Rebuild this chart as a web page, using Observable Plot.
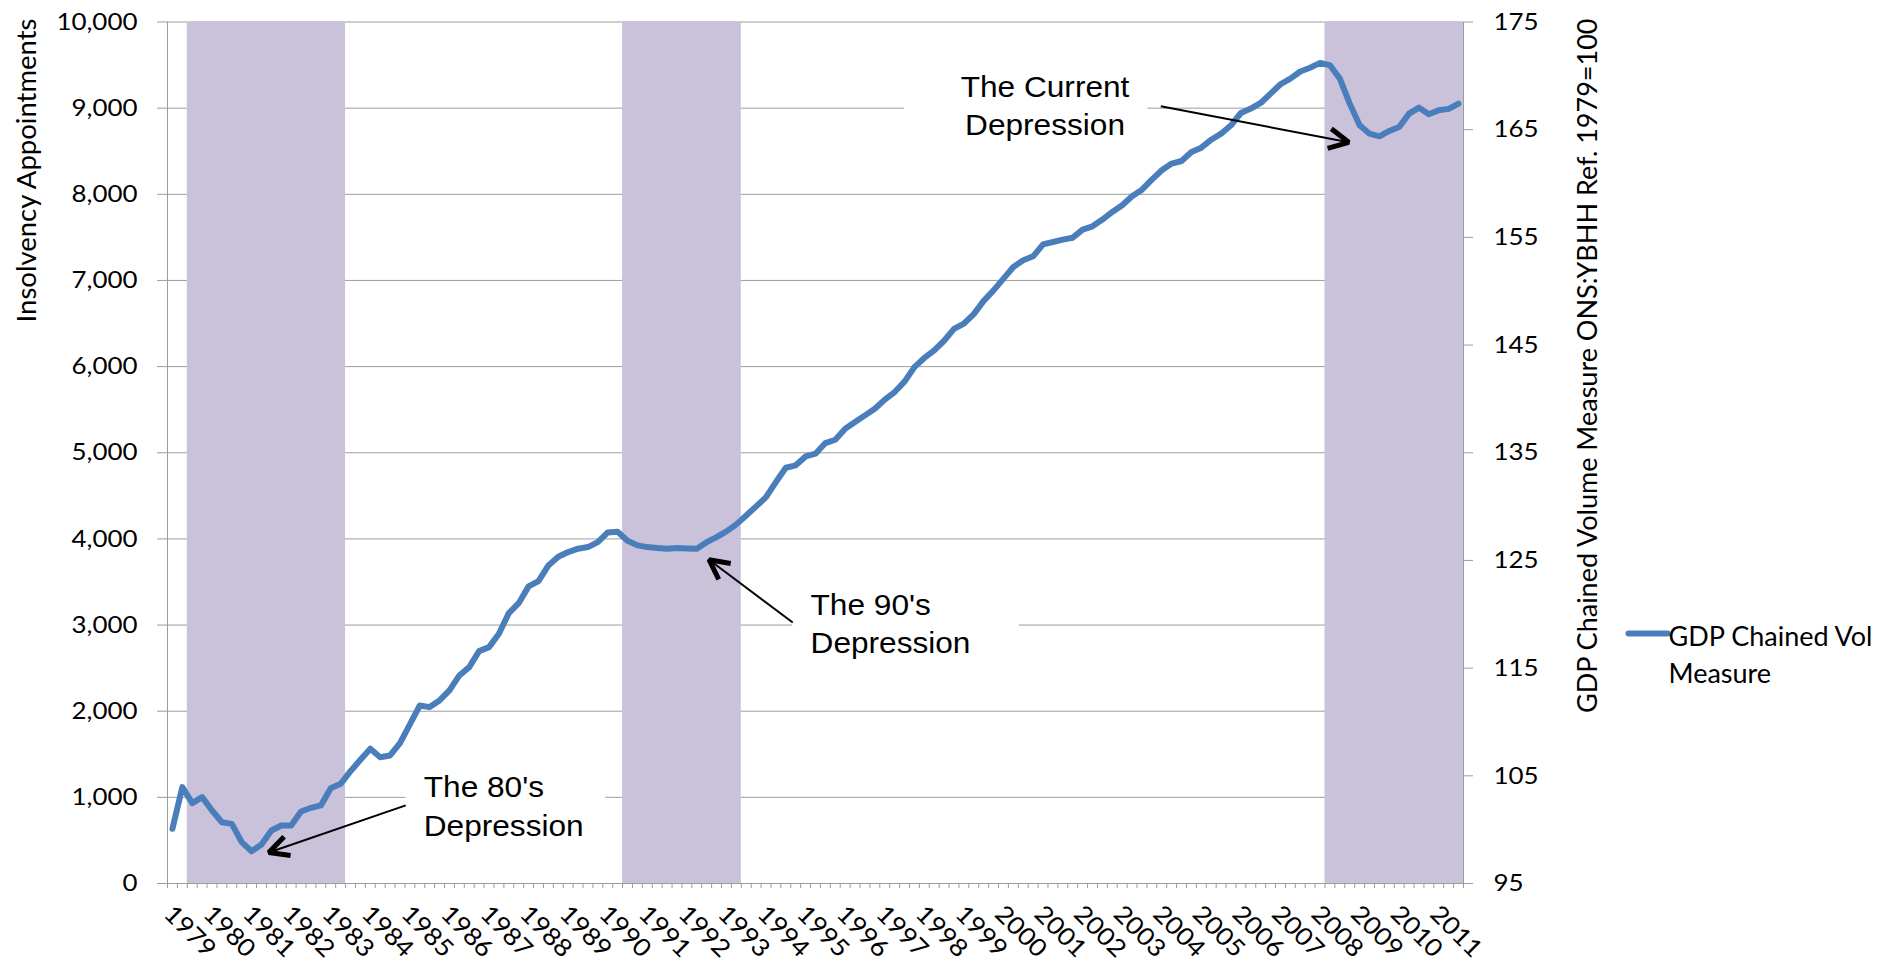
<!DOCTYPE html>
<html>
<head>
<meta charset="utf-8">
<script src="https://cdn.jsdelivr.net/npm/d3@7"></script>
<script src="https://cdn.jsdelivr.net/npm/@observablehq/plot@0.6"></script>
<style>
  html, body { margin: 0; padding: 0; background: #fff; }
  svg { display: block; }
</style>
</head>
<body>
<script>
// ---------------- DATA ----------------
const startYear = 1979;
// GDP chained volume measure (ONS:YBHH, 1979=100), quarterly 1979 Q1 .. 2011 Q3
const gdp = [
  100.08, 103.95, 102.46, 103.02, 101.78, 100.69, 100.54, 98.84,
  98.00, 98.62, 99.92, 100.39, 100.39, 101.69, 102.03, 102.25,
  103.85, 104.26, 105.43, 106.49, 107.51, 106.73, 106.89, 108.03,
  109.77, 111.53, 111.38, 112.00, 112.93, 114.32, 115.09, 116.58,
  116.95, 118.19, 120.11, 121.03, 122.59, 123.08, 124.54, 125.34,
  125.78, 126.09, 126.24, 126.70, 127.60, 127.66, 126.83, 126.40,
  126.24, 126.15, 126.09, 126.15, 126.12, 126.09, 126.70, 127.17,
  127.70, 128.35, 129.18, 130.02, 130.88, 132.28, 133.61, 133.83,
  134.66, 134.91, 135.90, 136.21, 137.23, 137.85, 138.47, 139.09,
  139.93, 140.64, 141.60, 142.95, 143.80, 144.50, 145.40, 146.50,
  147.00, 147.87, 149.10, 150.08, 151.17, 152.25, 152.87, 153.24,
  154.35, 154.57, 154.79, 154.97, 155.72, 156.03, 156.65, 157.36,
  157.98, 158.81, 159.43, 160.36, 161.23, 161.85, 162.09, 162.93,
  163.33, 164.07, 164.63, 165.41, 166.55, 166.96, 167.48, 168.35,
  169.22, 169.74, 170.40, 170.75, 171.20, 170.98, 169.74, 167.42,
  165.41, 164.63, 164.38, 164.88, 165.25, 166.49, 167.05, 166.43,
  166.80, 166.93, 167.42
];
const yearLabels = ["1979","1980","1981","1982","1983","1984","1985","1986","1987","1988",
  "1989","1990","1991","1992","1993","1994","1995","1996","1997","1998","1999","2000",
  "2001","2002","2003","2004","2005","2006","2007","2008","2009","2010","2011"];
const leftTicks = [0, 1000, 2000, 3000, 4000, 5000, 6000, 7000, 8000, 9000, 10000];
const rightTicks = [95, 105, 115, 125, 135, 145, 155, 165, 175];
// shaded "depression" periods (first and last quarter)
const bandStart = ["1979 Q3", "1990 Q3", "2008 Q2"];
const bandEnd   = ["1983 Q2", "1993 Q2", "2011 Q3"];
// annotations (x = quarter index, y = right-axis units)
const noteLines  = [["The 80's", "Depression"], ["The 90's", "Depression"], ["The Current", "Depression"]];
const noteX      = [25.4, 64.5, 88.2];
const noteY      = [[103.87, 100.29], [120.82, 117.29], [168.89, 165.36]];
const noteAnchor = ["start", "start", "middle"];
const boxX = [[23.6, 43.8], [62.7, 85.6], [74.0, 98.6]];
const boxY = [[98.5, 105.5], [114.8, 122.7], [163.1, 171.0]];
const arrowFrom = [[23.58, 102.25], [62.70, 119.24], [99.90, 167.17]];
const arrowTo   = [[9.74, 97.88], [54.24, 125.07], [118.90, 163.83]];
const legendLines = ["GDP Chained Vol", "Measure"];

// ---------------- LAYOUT ----------------
const W = 1895, H = 958, mL = 167, mR = 432, mT = 21.5, mB = 75;
const yMin = 95, yMax = 175, leftMax = 10000;
const X0 = -0.5, X1 = gdp.length - 0.5;
const kx = (W - mL - mR) / (X1 - X0);
const ky = (H - mT - mB) / (yMax - yMin);
const gray = "#9c9c9c", lavender = "#cac1da", blue = "#4a7ebb";

const quarters = gdp.map((_, i) => `${startYear + Math.floor(i / 4)} Q${(i % 4) + 1}`);
const series = gdp.map((v, i) => ({i, v, q: quarters[i]}));
const toY = v => yMin + v * (yMax - yMin) / leftMax;
const bands = bandStart.map((s, k) => ({x1: quarters.indexOf(s) - 0.5, x2: quarters.indexOf(bandEnd[k]) + 0.5}));
const boxes = boxX.map((b, k) => ({x1: b[0], x2: b[1], y1: boxY[k][0], y2: boxY[k][1]}));
const notes = noteLines.flatMap((lines, k) => lines.map((t, j) => ({text: t, x: noteX[k], y: noteY[k][j], anchor: noteAnchor[k]})));
const arrows = arrowFrom.map((f, k) => ({x1: f[0], y1: f[1], x2: arrowTo[k][0], y2: arrowTo[k][1]}));
// arrowheads (open chevrons) built in screen space around each tip
const headLen = 22, headAng = 27 * Math.PI / 180;
const heads = arrows.flatMap((a, k) => {
  const dx = (a.x1 - a.x2) * kx, dy = -(a.y1 - a.y2) * ky;
  const L = Math.hypot(dx, dy), ux = dx / L, uy = dy / L;
  const arm = t => {
    const c = Math.cos(t), s = Math.sin(t);
    const vx = (ux * c - uy * s) * headLen, vy = (ux * s + uy * c) * headLen;
    return {k, x: a.x2 + vx / kx, y: a.y2 - vy / ky};
  };
  return [arm(headAng), {k, x: a.x2, y: a.y2}, arm(-headAng)];
});
const pxX = p => X0 + (p - mL) / kx;
const pxY = p => yMin + (H - mB - p) / ky;
const legendSwatch = [{x1: pxX(1628), x2: pxX(1667), y1: pxY(633), y2: pxY(633)}];

const chart = Plot.plot({
  width: W, height: H,
  marginLeft: mL, marginRight: mR, marginTop: mT, marginBottom: mB,
  style: {fontFamily: "Lato, sans-serif", background: "white", color: "black"},
  x: {type: "linear", domain: [X0, X1]},
  y: {domain: [yMin, yMax]},
  marks: [
    Plot.ruleY(leftTicks.map(toY), {stroke: gray, strokeWidth: 1}),
    Plot.rect(bands, {x1: "x1", x2: "x2", fill: lavender}),
    Plot.rect(boxes, {x1: "x1", x2: "x2", y1: "y1", y2: "y2", fill: "white"}),
    Plot.line(series, {x: "i", y: "v", stroke: blue, strokeWidth: 6, strokeLinejoin: "round", strokeLinecap: "round"}),
    Plot.link(arrows, {x1: "x1", y1: "y1", x2: "x2", y2: "y2", stroke: "black", strokeWidth: 2}),
    Plot.line(heads, {x: "x", y: "y", z: "k", stroke: "black", strokeWidth: 5, strokeLinejoin: "miter", strokeLinecap: "butt"}),
    Plot.text(notes.filter(d => d.anchor === "start"), {x: "x", y: "y", text: "text", textAnchor: "start", fontFamily: "Liberation Sans", fontSize: 29, fill: "black"}),
    Plot.text(notes.filter(d => d.anchor === "middle"), {x: "x", y: "y", text: "text", textAnchor: "middle", fontFamily: "Liberation Sans", fontSize: 29, fill: "black"}),
    // axis lines
    Plot.ruleX([X0, X1], {stroke: gray, strokeWidth: 1}),
    Plot.ruleY([yMin], {stroke: gray, strokeWidth: 1}),
    // left axis (insolvency appointments)
    Plot.axisY(leftTicks.map(toY), {anchor: "left", tickSize: 10, tickPadding: 20, fontSize: 24, fontFamily: "Lato", stroke: gray, label: null,
      tickFormat: d => d3.format(",")(Math.round((d - yMin) * leftMax / (yMax - yMin)))}),
    // right axis (GDP index)
    Plot.axisY(rightTicks, {anchor: "right", tickSize: 9, tickPadding: 21, fontSize: 24, fontFamily: "Lato", stroke: gray, label: null, tickFormat: d => String(d)}),
    // category tick marks
    Plot.axisX(d3.range(gdp.length + 1).map(k => k - 0.5), {anchor: "bottom", tickSize: 5, stroke: gray, fill: "none", label: null, tickFormat: () => ""}),
    // year labels
    Plot.text(yearLabels, {x: (d, i) => i * 4, frameAnchor: "bottom", lineAnchor: "bottom", rotate: 45, textAnchor: "start", dx: -10, dy: 32, fontSize: 24.5, fontFamily: "Lato", fill: "black"}),
    // axis titles
    Plot.text(["Insolvency Appointments"], {frameAnchor: "top-left", lineAnchor: "middle", rotate: -90, textAnchor: "end", dx: -140.5, dy: -3.5, fontSize: 27.5, fill: "black"}),
    Plot.text(["GDP Chained Volume Measure ONS:YBHH Ref. 1979=100"], {frameAnchor: "top-right", lineAnchor: "middle", rotate: -90, textAnchor: "end", dx: 124.4, dy: -3.5, fontSize: 27, fill: "black"}),
    // legend
    Plot.link(legendSwatch, {x1: "x1", x2: "x2", y1: "y1", y2: "y2", stroke: blue, strokeWidth: 6, strokeLinecap: "round"}),
    Plot.text([legendLines[0]], {frameAnchor: "top-right", lineAnchor: "middle", textAnchor: "start", dx: 205, dy: 615.5, fontSize: 27, fill: "black"}),
    Plot.text([legendLines[1]], {frameAnchor: "top-right", lineAnchor: "middle", textAnchor: "start", dx: 205, dy: 652.5, fontSize: 27, fill: "black"})
  ]
});
document.body.append(chart);
// widen lettering slightly, as in the (horizontally stretched) original
chart.querySelectorAll("text").forEach(t => {
  const g = t.closest("g[font-family]");
  const fam = g ? g.getAttribute("font-family") : null;
  const factor = fam === "Liberation Sans" ? 1.09 : fam === "Lato" ? 1.08 : 1;
  if (factor !== 1 && t.textContent) {
    const L = t.getComputedTextLength();
    t.setAttribute("textLength", (L * factor).toFixed(1));
    t.setAttribute("lengthAdjust", "spacingAndGlyphs");
  }
});
</script>
</body>
</html>
